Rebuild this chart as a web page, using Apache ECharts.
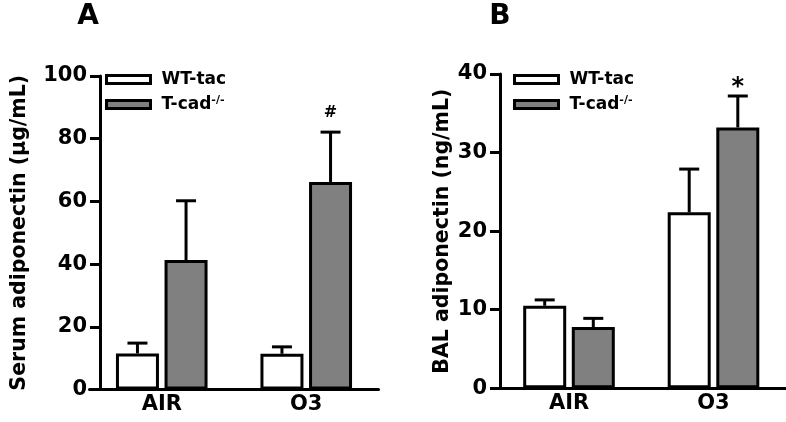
<!DOCTYPE html>
<html><head><meta charset="utf-8">
<script src="https://cdn.jsdelivr.net/npm/echarts@6/dist/echarts.min.js"></script>
<style>html,body{margin:0;padding:0;background:#fff}#c{width:786px;height:422px}</style>
</head><body><div id="c"></div>
<script>
// ---- data ----
const categories = ['AIR', 'O3'];
const seriesNames = ['WT-tac', 'T-cad-/-'];

const serumWT = [11.5, 11.4];
const serumWTErr = [3.3, 2.2];
const serumKO = [41.3, 66.2];
const serumKOErr = [18.9, 15.9];
const serumSig = ['', '#'];
const serumTicks = [0, 20, 40, 60, 80, 100];

const balWT = [10.5, 22.4];
const balWTErr = [0.75, 5.5];
const balKO = [7.8, 33.2];
const balKOErr = [1.1, 4.0];
const balSig = ['', '*'];
const balTicks = [0, 10, 20, 30, 40];

// ---- style ----
const FONT = 'DejaVu Sans';
const BAR_W = 43, BAR_GAP = 0.13;
const HALF = BAR_W * (1 + BAR_GAP) / 2;

function errRender(offset, sig, sigFont, sigGap) {
  return function (params, api) {
    const ci = api.value(0), m = api.value(1), e = api.value(2);
    const base = api.coord([ci, m]);
    const top = api.coord([ci, m + e]);
    const x = base[0] + offset;
    const ch = [
      {type: 'line', shape: {x1: x, y1: base[1], x2: x, y2: top[1]}, style: {stroke: '#000', lineWidth: 3}},
      {type: 'line', shape: {x1: x - 10, y1: top[1], x2: x + 10, y2: top[1]}, style: {stroke: '#000', lineWidth: 3}}
    ];
    const s = sig ? sig[params.dataIndex] : '';
    if (s) ch.push({type: 'text', x: x, y: top[1] - sigGap,
      style: {text: s, fill: '#000', font: 'bold ' + sigFont + 'px "' + FONT + '"', textAlign: 'center', textVerticalAlign: 'middle'}});
    return {type: 'group', children: ch};
  };
}

function yAxis(idx, ticks, name, offset, gap) {
  return {
    type: 'value', gridIndex: idx, min: ticks[0], max: ticks[ticks.length - 1],
    interval: ticks[1] - ticks[0], offset: offset,
    splitLine: {show: false},
    axisLine: {show: true, lineStyle: {color: '#000', width: 3}},
    axisTick: {show: true, inside: false, length: 10, lineStyle: {color: '#000', width: 3}},
    axisLabel: {color: '#000', fontFamily: FONT, fontWeight: 'bold', fontSize: 21, margin: 13},
    name: name, nameLocation: 'middle', nameRotate: 90, nameGap: gap,
    nameTextStyle: {color: '#000', fontFamily: FONT, fontWeight: 'bold', fontSize: 20.5}
  };
}
function xAxis(idx) {
  return {
    type: 'category', gridIndex: idx, data: categories,
    axisLine: {show: true, lineStyle: {color: '#000', width: 3}},
    axisTick: {show: false},
    axisLabel: {color: '#000', fontFamily: FONT, fontWeight: 'bold', fontSize: 21, margin: 5}
  };
}
function bars(idx, wt, ko) {
  const common = {type: 'bar', xAxisIndex: idx, yAxisIndex: idx, barWidth: BAR_W, barGap: (BAR_GAP * 100) + '%',
    emphasis: {disabled: true}};
  return [
    Object.assign({}, common, {name: seriesNames[0], data: wt, itemStyle: {color: '#fff', borderColor: '#000', borderWidth: 3}}),
    Object.assign({}, common, {name: seriesNames[1], data: ko, itemStyle: {color: '#808080', borderColor: '#000', borderWidth: 3}})
  ];
}
function errs(idx, wt, wtE, ko, koE, sig, sigFont, sigGap) {
  return [
    {type: 'custom', xAxisIndex: idx, yAxisIndex: idx, z: 5, silent: true,
      renderItem: errRender(-HALF, null), data: categories.map((c, i) => [i, wt[i], wtE[i]])},
    {type: 'custom', xAxisIndex: idx, yAxisIndex: idx, z: 5, silent: true,
      renderItem: errRender(HALF, sig, sigFont, sigGap), data: categories.map((c, i) => [i, ko[i], koE[i]])}
  ];
}
function legend(left, top) {
  return {
    left: left, top: top, padding: 0, orient: 'vertical', itemWidth: 44, itemHeight: 8, itemGap: 5,
    icon: 'rect', selectedMode: false, data: seriesNames,
    itemStyle: {borderColor: '#000', borderWidth: 3},
    formatter: n => n === 'T-cad-/-' ? 'T-cad{sup|-/-}' : n,
    textStyle: {color: '#000', fontFamily: FONT, fontWeight: 'bold', fontSize: 17, lineHeight: 20, padding: [0, 0, 0, 6],
      rich: {sup: {fontFamily: FONT, fontWeight: 'bold', fontSize: 11, lineHeight: 20, verticalAlign: 'top', padding: [0, 0, 8, 0]}}}
  };
}

const chart = echarts.init(document.getElementById('c'), null, {renderer: 'canvas'});
chart.setOption({
  animation: false,
  backgroundColor: '#fff',
  grid: [
    {left: 89.5, top: 76, width: 289, bottom: 32.5},
    {left: 496.75, top: 74, width: 289, bottom: 33.7}
  ],
  xAxis: [xAxis(0), xAxis(1)],
  yAxis: [yAxis(0, serumTicks, 'Serum adiponectin (μg/mL)', -10.5, 70), yAxis(1, balTicks, 'BAL adiponectin (ng/mL)', -3.25, 47)],
  legend: [legend(105, 69.5), legend(513, 69.5)],
  graphic: [
    {type: 'text', x: 88, y: 17, style: {text: 'A', fill: '#000', font: 'bold 28px "' + FONT + '"', textAlign: 'center', textVerticalAlign: 'middle'}},
    {type: 'text', x: 500, y: 17, style: {text: 'B', fill: '#000', font: 'bold 28px "' + FONT + '"', textAlign: 'center', textVerticalAlign: 'middle'}}
  ],
  series: [].concat(
    bars(0, serumWT, serumKO),
    bars(1, balWT, balKO),
    errs(0, serumWT, serumWTErr, serumKO, serumKOErr, serumSig, 16, 19),
    errs(1, balWT, balWTErr, balKO, balKOErr, balSig, 24, 8)
  )
});
</script></body></html>
